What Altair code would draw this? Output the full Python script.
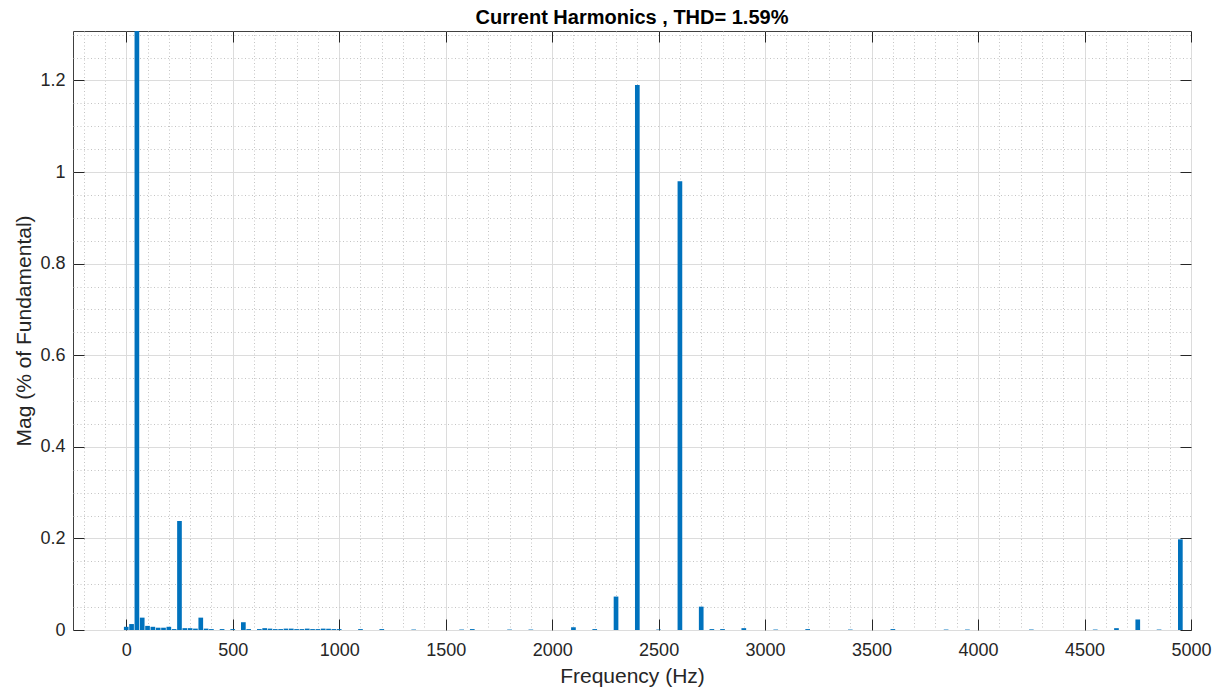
import altair as alt
import pandas as pd

# ---- data (frequency bins in Hz, magnitude in % of fundamental)
freq_hz = [0, 25, 50, 75, 100, 125, 150, 175, 200, 225, 250, 275, 300, 325, 350, 375,
           400, 450, 500, 550, 575, 625, 650, 675, 700, 725, 750, 775, 800, 825, 850,
           875, 900, 925, 950, 975, 1000, 1100, 1200, 1350, 1575, 1625, 1800, 1900,
           2100, 2200, 2300, 2400, 2500, 2600, 2700, 2750, 2800, 2900, 3050, 3200,
           3400, 3600, 3850, 3950, 4250, 4550, 4650, 4750, 4850, 4950]
mag_pct = [0.007, 0.013, 100.0, 0.027, 0.009, 0.007, 0.005, 0.005, 0.007, 0.002, 0.238,
           0.004, 0.004, 0.003, 0.027, 0.003,
           0.002, 0.002, 0.002, 0.017, 0.002, 0.002, 0.004, 0.003, 0.002, 0.002, 0.003,
           0.003, 0.002, 0.002, 0.003,
           0.002, 0.002, 0.003, 0.003, 0.002, 0.002, 0.002, 0.002, 0.001, 0.001, 0.002,
           0.001, 0.001,
           0.006, 0.002, 0.073, 1.19, 0.001, 0.98, 0.051, 0.002, 0.002, 0.004, 0.001,
           0.002,
           0.001, 0.002, 0.001, 0.001, 0.001, 0.001, 0.004, 0.023, 0.001, 0.198]

x_major = [0, 500, 1000, 1500, 2000, 2500, 3000, 3500, 4000, 4500, 5000]
x_minor = [-200, -100, 100, 200, 300, 400, 600, 700, 800, 900, 1100, 1200, 1300, 1400,
           1600, 1700, 1800, 1900, 2100, 2200, 2300, 2400, 2600, 2700, 2800, 2900,
           3100, 3200, 3300, 3400, 3600, 3700, 3800, 3900, 4100, 4200, 4300, 4400,
           4600, 4700, 4800, 4900]
y_major = [0, 0.2, 0.4, 0.6, 0.8, 1.0, 1.2]
y_minor = [0.05, 0.1, 0.15, 0.25, 0.3, 0.35, 0.45, 0.5, 0.55, 0.65, 0.7, 0.75, 0.85,
           0.9, 0.95, 1.05, 1.1, 1.15, 1.25, 1.3]

df = pd.DataFrame({"freq": freq_hz, "mag": mag_pct})

FONT = "Liberation Sans"
TXT = "#262626"
W, H = 1118, 599
xs = alt.Scale(domain=[-250, 5000], nice=False, zero=False)
ys = alt.Scale(domain=[0, 1.308], nice=False, zero=False)

base = alt.Chart(df)


def ghost(xaxis, yaxis):
    return base.mark_point(opacity=0, clip=True).encode(
        x=alt.X("freq:Q", scale=xs, axis=xaxis),
        y=alt.Y("mag:Q", scale=ys, axis=yaxis),
    )


minor_grid = ghost(
    alt.Axis(orient="bottom", values=x_minor, grid=True, gridColor="#c4c4c4",
             gridDash=[1, 2.5], gridWidth=1, ticks=False, labels=False,
             domain=False, title=None),
    alt.Axis(orient="left", values=y_minor, grid=True, gridColor="#c4c4c4",
             gridDash=[1, 2.5], gridWidth=1, ticks=False, labels=False,
             domain=False, title=None),
)

major_grid = ghost(
    alt.Axis(orient="bottom", values=x_major, grid=True, gridColor="#dcdcdc",
             gridWidth=1, ticks=False, labels=False, domain=False, title=None),
    alt.Axis(orient="left", values=y_major, grid=True, gridColor="#dcdcdc",
             gridWidth=1, ticks=False, labels=False, domain=False, title=None),
)

bars = base.transform_calculate(
    lo="datum.freq - 11", hi="datum.freq + 11", base0="0"
).mark_bar(color="#0072BD", clip=True).encode(
    x=alt.X("lo:Q", scale=xs, axis=None),
    x2="hi:Q",
    y=alt.Y("mag:Q", scale=ys, axis=None),
    y2="base0:Q",
)

label_axes = ghost(
    alt.Axis(orient="bottom", values=x_major, format="d", offset=-11, tickSize=11,
             tickColor=TXT, tickWidth=1, domain=False, grid=False,
             labelFont=FONT, labelFontSize=18, labelColor=TXT, labelPadding=11,
             labelFlush=False, labelOverlap=False,
             title="Frequency (Hz)", titleFont=FONT, titleFontSize=21,
             titleFontWeight="normal", titleColor=TXT, titleBaseline="alphabetic",
             titleAlign="center", titleX=W / 2, titleY=63),
    alt.Axis(orient="left", values=y_major, format="~g", offset=-11, tickSize=11,
             tickColor=TXT, tickWidth=1, domain=False, grid=False,
             labelFont=FONT, labelFontSize=18, labelColor=TXT, labelPadding=8,
             labelFlush=False, labelOverlap=False,
             title="Mag (% of Fundamental)", titleFont=FONT, titleFontSize=21,
             titleFontWeight="normal", titleColor=TXT, titleBaseline="alphabetic",
             titleAngle=270, titleAlign="center", titleX=-54, titleY=H / 2),
)

opp_axes = ghost(
    alt.Axis(orient="top", values=x_major, offset=-11, tickSize=11, tickColor=TXT,
             tickWidth=1, domain=False, grid=False, labels=False, title=None),
    alt.Axis(orient="right", values=y_major, offset=-11, tickSize=11, tickColor=TXT,
             tickWidth=1, domain=False, grid=False, labels=False, title=None),
)

chart = alt.layer(minor_grid, major_grid, bars, label_axes, opp_axes).resolve_axis(
    x="independent", y="independent"
).properties(
    width=W,
    height=H,
    title=alt.TitleParams("Current Harmonics , THD= 1.59%", font=FONT, fontSize=20,
                          fontWeight="bold", color="#000000", anchor="middle",
                          baseline="alphabetic", offset=8, dy=21),
    autosize=alt.AutoSizeParams(type="none"),
    padding={"left": 73, "top": 31, "right": 28, "bottom": 61},
    background="#ffffff",
).configure_view(stroke="#404040", strokeWidth=1)

chart.save("out.html", embed_options={"renderer": "svg", "actions": False})
